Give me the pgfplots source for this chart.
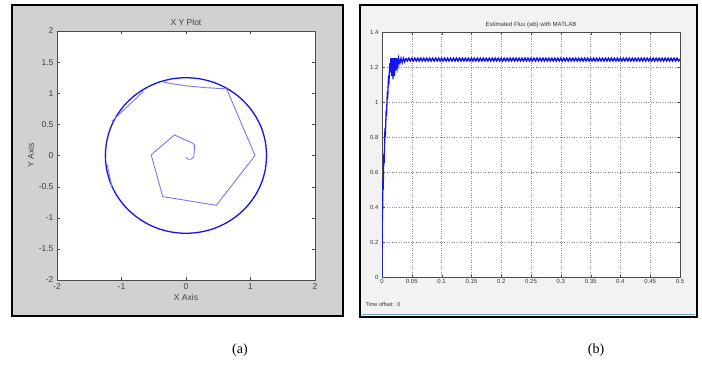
\documentclass[border=0pt]{standalone}
\usepackage{pgfplots}
\pgfplotsset{compat=1.18}
\usepackage{fontspec}
\setmainfont{Liberation Sans}
\newfontfamily\capfont{Liberation Serif}
\definecolor{mblue}{RGB}{20,20,240}
\definecolor{sblue}{RGB}{120,120,245}
\begin{document}
\begin{tikzpicture}
\path (0pt,0pt) rectangle (702pt,365pt);
% left frame
\filldraw[fill=black!18, draw=black, line width=1.3pt] (12pt,49pt) rectangle (343pt,360pt);
% right frame
\filldraw[fill=black!5, draw=black, line width=1.8pt] (360pt,48pt) rectangle (697pt,360pt);
\draw[cyan!40!gray, line width=0.6pt] (362pt,50.5pt) -- (695pt,50.5pt);
\begin{axis}[
  at={(57pt,85pt)}, anchor=south west, scale only axis,
  width=258pt, height=249pt,
  xmin=-2, xmax=2, ymin=-2, ymax=2,
  xtick={-2,-1,0,1,2}, ytick={-2,-1.5,-1,-0.5,0,0.5,1,1.5,2},
  yticklabels={-2,-1.5,-1,-0.5,0,0.5,1,1.5,2},
  xticklabels={-2,-1,0,1,2},
  tick align=inside, major tick length=3pt,
  axis background/.style={fill=white},
  axis line style={black!70, line width=0.5pt},
  tick style={black!70},
  ticklabel style={font=\fontsize{8.5}{9}\selectfont, text=black!75},
  /pgf/number format/assume math mode=true,
  title={X Y Plot}, title style={font=\fontsize{8.5}{9}\selectfont, text=black!75, yshift=-4pt},
  xlabel={X Axis}, ylabel={Y Axis},
  xlabel style={font=\fontsize{8.5}{9}\selectfont, text=black!75, yshift=2pt},
  ylabel style={font=\fontsize{8.5}{9}\selectfont, text=black!75, yshift=-2pt},
]
\addplot[mblue, line width=1.3pt, smooth] coordinates {
(1.25,0) (1.231,0.217) (1.175,0.428) (1.083,0.625) (0.958,0.803) (0.803,0.958)
(0.625,1.083) (0.428,1.175) (0.217,1.231) (0,1.25) (-0.217,1.231) (-0.428,1.175)
(-0.625,1.083) (-0.803,0.958) (-0.958,0.803) (-1.083,0.625) (-1.175,0.428) (-1.231,0.217)
(-1.25,0) (-1.231,-0.217) (-1.175,-0.428) (-1.083,-0.625) (-0.958,-0.803) (-0.803,-0.958)
(-0.625,-1.083) (-0.428,-1.175) (-0.217,-1.231) (0,-1.25) (0.217,-1.231) (0.428,-1.175)
(0.625,-1.083) (0.803,-0.958) (0.958,-0.803) (1.083,-0.625) (1.175,-0.428) (1.231,-0.217)
(1.25,0)};
\addplot[sblue, line width=0.9pt] coordinates {
(0.0,-0.03) (0.03,-0.06) (0.08,-0.06) (0.12,-0.02) (0.13,0.08) (0.13,0.17) (0.1,0.2)
(-0.18,0.33) (-0.54,0.01) (-0.36,-0.66) (0.47,-0.80) (1.07,0.0) (0.63,1.07)
(0.3,1.09) (0.0,1.12) (-0.2,1.15) (-0.35,1.18)};
\addplot[sblue, line width=0.9pt] coordinates {(-0.66,1.03) (-1.15,0.55)};
\addplot[sblue, line width=0.8pt] coordinates {(-1.22,-0.15) (-1.15,-0.5)};
\end{axis}
\begin{axis}[
  at={(382pt,88pt)}, anchor=south west, scale only axis,
  width=298pt, height=245pt,
  xmin=0, xmax=0.5, ymin=0, ymax=1.4,
  xtick={0,0.05,0.1,0.15,0.2,0.25,0.3,0.35,0.4,0.45,0.5},
  xticklabels={0,0.05,0.1,0.15,0.2,0.25,0.3,0.35,0.4,0.45,0.5},
  ytick={0,0.2,0.4,0.6,0.8,1,1.2,1.4},
  yticklabels={0,0.2,0.4,0.6,0.8,1,1.2,1.4},
  grid=major, grid style={black!45, dotted, line width=0.6pt},
  tick align=inside, major tick length=2.5pt,
  axis background/.style={fill=white},
  axis line style={black!70, line width=0.5pt},
  tick style={black!70},
  ticklabel style={font=\fontsize{6}{6}\selectfont, text=black!80},
  xticklabel style={yshift=1pt},
  /pgf/number format/assume math mode=true,
  title={Estimated Flux (wb) with MATLAB},
  title style={font=\fontsize{6}{6}\selectfont, text=black!80, yshift=-5pt},
]
\addplot[mblue, line width=1.3pt] coordinates {
(0,0) (0.0004,0.4) (0.0008,0.32) (0.0015,0.55) (0.002,0.5) (0.003,0.7) (0.0035,0.65)
(0.005,0.85) (0.0055,0.8) (0.007,0.95) (0.0075,0.92) (0.009,1.06) (0.0095,1.02)
(0.011,1.15) (0.0115,1.1) (0.013,1.22) (0.0135,1.17) (0.015,1.25) (0.016,1.15)
(0.017,1.25) (0.0185,1.13) (0.0195,1.25) (0.021,1.15) (0.022,1.25) (0.0235,1.18)
(0.025,1.25) (0.0265,1.2) (0.028,1.25) (0.03,1.22) (0.032,1.25) (0.034,1.225)
(0.036,1.25) (0.038,1.23) (0.04,1.25)};
\addplot[mblue, line width=1.5pt] table {
0.040 1.250
0.0425 1.235
0.045 1.250
0.0475 1.235
0.050 1.250
0.0525 1.235
0.055 1.250
0.0575 1.235
0.060 1.250
0.0625 1.235
0.065 1.250
0.0675 1.235
0.070 1.250
0.0725 1.235
0.075 1.250
0.0775 1.235
0.080 1.250
0.0825 1.235
0.085 1.250
0.0875 1.235
0.090 1.250
0.0925 1.235
0.095 1.250
0.0975 1.235
0.100 1.250
0.1025 1.235
0.105 1.250
0.1075 1.235
0.110 1.250
0.1125 1.235
0.115 1.250
0.1175 1.235
0.120 1.250
0.1225 1.235
0.125 1.250
0.1275 1.235
0.130 1.250
0.1325 1.235
0.135 1.250
0.1375 1.235
0.140 1.250
0.1425 1.235
0.145 1.250
0.1475 1.235
0.150 1.250
0.1525 1.235
0.155 1.250
0.1575 1.235
0.160 1.250
0.1625 1.235
0.165 1.250
0.1675 1.235
0.170 1.250
0.1725 1.235
0.175 1.250
0.1775 1.235
0.180 1.250
0.1825 1.235
0.185 1.250
0.1875 1.235
0.190 1.250
0.1925 1.235
0.195 1.250
0.1975 1.235
0.200 1.250
0.2025 1.235
0.205 1.250
0.2075 1.235
0.210 1.250
0.2125 1.235
0.215 1.250
0.2175 1.235
0.220 1.250
0.2225 1.235
0.225 1.250
0.2275 1.235
0.230 1.250
0.2325 1.235
0.235 1.250
0.2375 1.235
0.240 1.250
0.2425 1.235
0.245 1.250
0.2475 1.235
0.250 1.250
0.2525 1.235
0.255 1.250
0.2575 1.235
0.260 1.250
0.2625 1.235
0.265 1.250
0.2675 1.235
0.270 1.250
0.2725 1.235
0.275 1.250
0.2775 1.235
0.280 1.250
0.2825 1.235
0.285 1.250
0.2875 1.235
0.290 1.250
0.2925 1.235
0.295 1.250
0.2975 1.235
0.300 1.250
0.3025 1.235
0.305 1.250
0.3075 1.235
0.310 1.250
0.3125 1.235
0.315 1.250
0.3175 1.235
0.320 1.250
0.3225 1.235
0.325 1.250
0.3275 1.235
0.330 1.250
0.3325 1.235
0.335 1.250
0.3375 1.235
0.340 1.250
0.3425 1.235
0.345 1.250
0.3475 1.235
0.350 1.250
0.3525 1.235
0.355 1.250
0.3575 1.235
0.360 1.250
0.3625 1.235
0.365 1.250
0.3675 1.235
0.370 1.250
0.3725 1.235
0.375 1.250
0.3775 1.235
0.380 1.250
0.3825 1.235
0.385 1.250
0.3875 1.235
0.390 1.250
0.3925 1.235
0.395 1.250
0.3975 1.235
0.400 1.250
0.4025 1.235
0.405 1.250
0.4075 1.235
0.410 1.250
0.4125 1.235
0.415 1.250
0.4175 1.235
0.420 1.250
0.4225 1.235
0.425 1.250
0.4275 1.235
0.430 1.250
0.4325 1.235
0.435 1.250
0.4375 1.235
0.440 1.250
0.4425 1.235
0.445 1.250
0.4475 1.235
0.450 1.250
0.4525 1.235
0.455 1.250
0.4575 1.235
0.460 1.250
0.4625 1.235
0.465 1.250
0.4675 1.235
0.470 1.250
0.4725 1.235
0.475 1.250
0.4775 1.235
0.480 1.250
0.4825 1.235
0.485 1.250
0.4875 1.235
0.490 1.250
0.4925 1.235
0.495 1.250
0.4975 1.235
0.500 1.245
};
\end{axis}
\node[anchor=west, font=\fontsize{5.5}{6}\selectfont, text=black!80] at (362pt,60pt) {Time offset:\ \ 0};
\node[font=\capfont\fontsize{14}{14}\selectfont] at (240pt,15pt) {(a)};
\node[font=\capfont\fontsize{14}{14}\selectfont] at (596pt,15pt) {(b)};
\end{tikzpicture}
\end{document}
